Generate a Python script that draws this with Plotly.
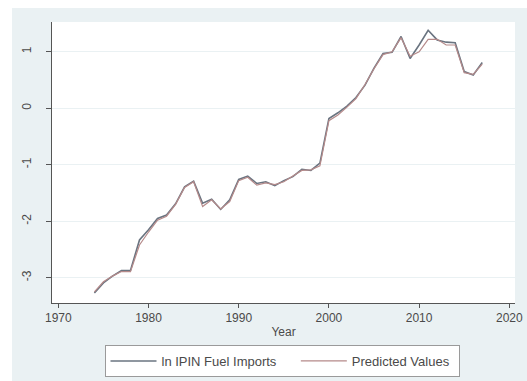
import plotly.graph_objects as go

years = list(range(1974, 2018))
actual = [-3.27, -3.09, -2.97, -2.87, -2.87, -2.33, -2.15, -1.95, -1.89, -1.69,
          -1.39, -1.29, -1.68, -1.61, -1.79, -1.62, -1.26, -1.20, -1.33, -1.30,
          -1.37, -1.28, -1.21, -1.08, -1.10, -0.97, -0.18, -0.08, 0.04, 0.19,
          0.41, 0.71, 0.97, 0.99, 1.27, 0.88, 1.12, 1.38, 1.21, 1.17,
          1.16, 0.65, 0.59, 0.81]
predicted = [-3.25, -3.07, -2.97, -2.89, -2.89, -2.42, -2.19, -1.98, -1.91, -1.70,
             -1.40, -1.30, -1.74, -1.62, -1.78, -1.65, -1.28, -1.22, -1.36, -1.32,
             -1.35, -1.30, -1.20, -1.10, -1.09, -1.02, -0.22, -0.12, 0.02, 0.17,
             0.42, 0.70, 0.95, 1.00, 1.25, 0.92, 1.00, 1.22, 1.22, 1.12,
             1.12, 0.63, 0.60, 0.78]
x_ticks = [1970, 1980, 1990, 2000, 2010, 2020]
y_ticks = [-3, -2, -1, 0, 1]
series_names = ["ln IPIN Fuel Imports", "Predicted Values"]

W, H = 527, 381
# plot area in page pixels
L, R, T, B = 52, 515, 22, 303
pw, ph = R - L, B - T

def px(xp):
    return (xp - L) / pw

def py(yp):
    return (B - yp) / ph

fig = go.Figure()
fig.add_trace(go.Scatter(x=years, y=actual, mode="lines",
                         name=series_names[0] + "\u00a0" * 4,
                         line=dict(color="#6a7480", width=1.6)))
fig.add_trace(go.Scatter(x=years, y=predicted, mode="lines",
                         name=series_names[1] + "\u00a0",
                         line=dict(color="#b58a8a", width=1.2)))

font = "Liberation Sans, Arial, sans-serif"
fig.update_layout(
    width=W, height=H,
    margin=dict(l=L, r=W - R, t=T, b=H - B, pad=0, autoexpand=False),
    paper_bgcolor="#eaf1f3",
    plot_bgcolor="white",
    font=dict(family=font, size=12, color="#4a4a4a"),
    showlegend=True,
    legend=dict(orientation="h", x=px(282), xanchor="center", y=py(345), yanchor="top",
                bgcolor="white", bordercolor="#9a9a9a", borderwidth=1, itemwidth=46,
                font=dict(size=13, color="#4a4a4a"), tracegroupgap=0),
    xaxis=dict(range=[1969.3, 2020.63], tickvals=x_ticks, ticks="outside", ticklen=4,
               tickcolor="#555", showline=True, linecolor="#555", linewidth=1,
               showgrid=False, zeroline=False, automargin=False,
               title=dict(text="Year", standoff=3, font=dict(size=12)),
               tickfont=dict(size=12)),
    yaxis=dict(range=[-3.446, 1.527], tickvals=y_ticks, ticktext=[str(v) for v in y_ticks],
               ticks="outside", ticklen=5, tickcolor="#555", tickangle=-90,
               ticklabelstandoff=10, automargin=False,
               showline=True, linecolor="#555", linewidth=1,
               showgrid=True, gridcolor="#eaf1f3", gridwidth=1, zeroline=False,
               tickfont=dict(size=12)),
    shapes=[
        dict(type="rect", xref="paper", yref="paper", x0=px(-2), x1=px(12), y0=py(H + 2), y1=py(-2),
             fillcolor="white", line=dict(width=0), layer="below"),
        dict(type="rect", xref="paper", yref="paper", x0=px(-2), x1=px(W + 2), y0=py(8), y1=py(-2),
             fillcolor="white", line=dict(width=0), layer="below"),
    ],
)

fig.write_html("out.html", config={"displayModeBar": False},
               post_script="document.body.style.margin='0';")
